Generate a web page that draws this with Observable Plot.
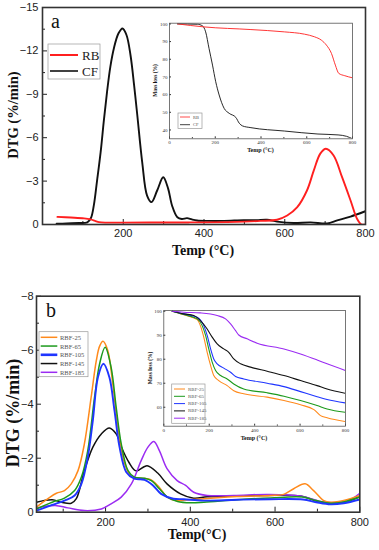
<!DOCTYPE html>
<html><head><meta charset="utf-8">
<script src="https://cdn.jsdelivr.net/npm/d3@7"></script>
<script src="https://cdn.jsdelivr.net/npm/@observablehq/plot@0.6"></script>
<style>
html,body{margin:0;padding:0;background:#fff;}
#chart{position:relative;width:379px;height:550px;overflow:hidden;background:#fff;}
#chart svg{position:absolute;overflow:visible;}
</style></head><body><div id="chart"></div>
<script>
// ---------- Panel a : DTG ----------
const aNames = ["RB", "CF"];
const aColors = ["#ff1f1f", "#111111"];
const rbT = [37, 70, 103, 119, 130, 140, 160, 200, 300, 400, 500, 540, 581, 606, 631, 655, 672, 688, 702, 721, 742, 763, 779, 790, 800];
const rbV = [-0.53, -0.48, -0.42, -0.35, -0.25, -0.16, -0.13, -0.13, -0.14, -0.15, -0.2, -0.25, -0.33, -0.62, -1.2, -2.35, -3.74, -4.9, -5.24, -4.77, -3.27, -1.66, -0.4, 0, 0];
const cfT = [35, 60, 90, 111, 120, 127, 135, 144, 152, 160, 168, 177, 188, 198, 208, 218, 227, 235, 247, 259, 270, 284, 299, 311, 321, 334, 345, 358, 370, 383, 408, 450, 498, 530, 556, 581, 622, 664, 705, 730, 763, 800];
const cfV = [-0.05, -0.08, -0.1, -0.15, -0.45, -1.3, -3.0, -5.0, -7.2, -9.2, -10.9, -12.2, -13.2, -13.55, -13.1, -11.7, -9.6, -7.5, -4.3, -2.0, -1.55, -2.35, -3.27, -2.5, -1.3, -0.5, -0.38, -0.44, -0.35, -0.28, -0.25, -0.25, -0.3, -0.3, -0.33, -0.2, -0.1, -0.15, -0.07, -0.28, -0.55, -0.92];
const aXTicks = [200, 400, 600, 800];
const aYTicks = [0, -3, -6, -9, -12, -15];

// ---------- Panel a inset : TG ----------
const rbTgT = [35, 151, 356, 502, 590, 634, 664, 686, 708, 725, 740, 766, 800];
const rbTgV = [100, 98.3, 96.8, 95.5, 94.2, 92.7, 90.8, 88, 83.3, 76.7, 72, 70.7, 69.5];
const cfTgT = [35, 122, 144, 158, 173, 188, 202, 217, 239, 261, 290, 305, 319, 356, 502, 649, 737, 774, 800];
const cfTgV = [100, 99.8, 98.9, 95.5, 86, 76.7, 67.3, 59.8, 52.2, 49.4, 47.1, 43.8, 42.3, 41.3, 39.4, 37.7, 37.2, 36.4, 35];
const aInXTicks = [0, 200, 400, 600, 800];
const aInYTicks = [40, 50, 60, 70, 80, 90, 100];

// ---------- Panel b : DTG ----------
const bNames = ["RBF-25", "RBF-65", "RBF-105", "RBF-145", "RBF-185"];
const bColors = ["#ff8a1c", "#1c9a1c", "#1f35ff", "#111111", "#9b2cf2"];
const b25T = [37, 64, 84, 103, 119, 135, 150, 166, 178, 186, 194, 205, 217, 229, 245, 261, 284, 304, 323, 346, 363, 401, 432, 510, 589, 620, 644, 671, 691, 715, 731, 762, 800];
const b25V = [-0.19, -0.5, -0.7, -0.8, -1.05, -1.54, -2.53, -4.26, -5.6, -6.15, -6.33, -6.0, -4.75, -3.15, -1.8, -1.32, -1.26, -1.22, -0.99, -0.56, -0.44, -0.47, -0.5, -0.58, -0.62, -0.66, -0.87, -1.05, -0.8, -0.43, -0.37, -0.43, -0.62];
const b65T = [37, 74, 103, 127, 143, 158, 174, 186, 199, 213, 225, 237, 253, 268, 292, 308, 327, 346, 370, 401, 432, 510, 589, 666, 697, 731, 762, 800];
const b65V = [-0.12, -0.37, -0.52, -0.8, -1.3, -2.28, -4.26, -5.5, -6.11, -5.37, -3.89, -2.53, -1.54, -1.3, -1.26, -1.17, -0.87, -0.56, -0.4, -0.35, -0.37, -0.46, -0.53, -0.56, -0.43, -0.33, -0.38, -0.56];
const b105T = [37, 74, 103, 127, 143, 158, 170, 182, 195, 209, 221, 233, 249, 268, 292, 312, 331, 360, 385, 432, 510, 589, 666, 697, 731, 762, 800];
const b105V = [-0.06, -0.27, -0.43, -0.62, -1.05, -2.04, -3.4, -5.0, -5.5, -5.0, -3.77, -2.41, -1.48, -1.24, -1.2, -0.99, -0.68, -0.5, -0.48, -0.43, -0.46, -0.48, -0.47, -0.37, -0.29, -0.33, -0.47];
const b145T = [37, 74, 96, 119, 131, 150, 170, 190, 209, 225, 241, 255, 272, 298, 323, 345, 377, 408, 440, 503, 582, 660, 707, 739, 770, 800];
const b145V = [-0.37, -0.46, -0.37, -0.33, -0.5, -1.54, -2.41, -2.9, -3.12, -2.9, -2.28, -1.85, -1.53, -1.72, -1.45, -1.05, -0.68, -0.52, -0.57, -0.6, -0.62, -0.6, -0.37, -0.33, -0.4, -0.57];
const b185T = [37, 81, 111, 150, 190, 213, 237, 261, 284, 300, 314, 327, 345, 369, 389, 408, 440, 503, 582, 660, 707, 739, 770, 800];
const b185V = [-0.16, -0.25, -0.16, -0.06, -0.12, -0.31, -0.56, -1.05, -1.91, -2.41, -2.62, -2.28, -1.61, -1.17, -0.99, -0.74, -0.62, -0.62, -0.66, -0.6, -0.4, -0.35, -0.4, -0.7];
const bXTicks = [200, 400, 600, 800];
const bYTicks = [0, -2, -4, -6, -8];

// ---------- Panel b inset : TG ----------
const tg25T = [37, 88, 147, 161, 176, 191, 206, 220, 242, 279, 308, 352, 455, 529, 602, 661, 690, 719, 800];
const tg25V = [100, 98.5, 96.5, 94, 89.2, 82.9, 77.4, 73.2, 71.1, 69, 66.9, 65.6, 64.2, 62.8, 61, 59, 56.5, 55.6, 54];
const tg65T = [37, 88, 147, 169, 184, 198, 213, 228, 250, 279, 308, 352, 455, 529, 602, 675, 719, 800];
const tg65V = [100, 98.6, 96.8, 94, 89.9, 84.3, 78.8, 75.3, 73.2, 71.8, 69.7, 67.6, 66, 64.6, 62.8, 60.7, 59.3, 57.9];
const tg105T = [37, 88, 147, 176, 191, 206, 220, 235, 264, 294, 316, 352, 455, 529, 602, 675, 719, 800];
const tg105V = [100, 98.9, 97.5, 94, 89.9, 84.3, 80.1, 78.1, 76.3, 74.6, 72.8, 71.8, 70, 68.6, 66.5, 64.4, 63.2, 61.8];
const tg145T = [37, 88, 132, 161, 191, 213, 235, 264, 286, 308, 338, 382, 455, 529, 602, 675, 719, 800];
const tg145V = [100, 98.9, 98.2, 96.1, 92.6, 89.2, 86.4, 84.3, 82.9, 80.1, 78.1, 76.7, 75, 73.2, 71.1, 69, 67.6, 65.8];
const tg185T = [37, 88, 161, 235, 272, 294, 316, 330, 367, 411, 529, 602, 675, 719, 800];
const tg185V = [100, 99.6, 99.3, 98.2, 96.8, 94.7, 91.9, 90.1, 88.5, 86.7, 84.3, 82.2, 79.7, 78.1, 75.3];
const bInXTicks = [0, 200, 400, 600, 800];
const bInYTicks = [60, 70, 80, 90, 100];

// ---------- helpers ----------
const rows = (T, V, s) => T.map((t, i) => ({t, v: V[i], s}));
const mid = (a) => a.slice(1).map((d, i) => (d + a[i]) / 2);
const root = document.getElementById("chart");
function place(el, left, top) { el.style.left = left + "px"; el.style.top = top + "px"; root.appendChild(el); }

const mainStyle = {fontFamily: "'Liberation Sans', Arial, sans-serif", fontSize: "11px", color: "#222", background: "transparent", overflow: "visible"};
const insetStyle = {fontFamily: "'Liberation Serif', 'Times New Roman', serif", fontSize: "5px", color: "#333", background: "transparent", overflow: "visible"};

// ---------- Panel a main ----------
const aData = [...rows(cfT, cfV, "CF"), ...rows(rbT, rbV, "RB")];
place(Plot.plot({
  width: 379, height: 275, marginLeft: 42, marginRight: 14, marginTop: 7, marginBottom: 51,
  style: mainStyle,
  x: {domain: [0, 800]},
  y: {domain: [0, -15]},
  color: {domain: aNames, range: aColors},
  marks: [
    Plot.axisX({ticks: aXTicks, tickSize: -5, tickPadding: 10, label: null}),
    Plot.axisX({ticks: [100, 300, 500, 700], tickSize: -3, tickFormat: () => "", label: null}),
    Plot.axisY({ticks: aYTicks, tickSize: -5, tickPadding: 9, label: null}),
    Plot.axisY({ticks: mid(aYTicks), tickSize: -3, tickFormat: () => "", label: null}),
    Plot.line(aData, {x: "t", y: "v", z: "s", stroke: "s", strokeWidth: 1.9, curve: "catmull-rom", clip: true}),
    Plot.frame({stroke: "#333", strokeWidth: 1.6})
  ]
}), 0, 0);

// ---------- Panel a inset ----------
const aInData = [...rows(cfTgT, cfTgV, "CF"), ...rows(rbTgT, rbTgV, "RB")];
place(Plot.plot({
  width: 210, height: 145, marginLeft: 19, marginRight: 8, marginTop: 7.7, marginBottom: 21.7,
  style: insetStyle,
  x: {domain: [0, 800]},
  y: {domain: [35, 100.4]},
  color: {domain: aNames, range: aColors},
  marks: [
    Plot.axisX({ticks: aInXTicks, tickSize: -2, tickPadding: 4, label: null}),
    Plot.axisX({ticks: mid(aInXTicks), tickSize: -1.2, tickFormat: () => "", label: null}),
    Plot.axisY({ticks: aInYTicks, tickSize: -2, tickPadding: 4, label: null}),
    Plot.line(aInData, {x: "t", y: "v", z: "s", stroke: "s", strokeWidth: 0.9, curve: "monotone-x", clip: true}),
    Plot.frame({stroke: "#555", strokeWidth: 0.8})
  ]
}), 150, 15);

// ---------- Panel b main ----------
const bSeries = [[b145T, b145V, bNames[3]], [b185T, b185V, bNames[4]], [b25T, b25V, bNames[0]], [b65T, b65V, bNames[1]], [b105T, b105V, bNames[2]]];
const bData = bSeries.flatMap(([T, V, s]) => rows(T, V, s));
place(Plot.plot({
  width: 379, height: 275, marginLeft: 36, marginRight: 19.7, marginTop: 20.7, marginBottom: 38.3,
  style: mainStyle,
  x: {domain: [37, 800]},
  y: {domain: [0, -8]},
  color: {domain: bNames, range: bColors},
  marks: [
    Plot.axisX({ticks: bXTicks, tickSize: -5, tickPadding: 11, label: null}),
    Plot.axisX({ticks: [100, 300, 500, 700], tickSize: -3, tickFormat: () => "", label: null}),
    Plot.axisY({ticks: bYTicks, tickSize: -5, tickPadding: 8, label: null}),
    Plot.axisY({ticks: mid(bYTicks), tickSize: -3, tickFormat: () => "", label: null}),
    Plot.line(bData, {x: "t", y: "v", z: "s", stroke: "s", strokeWidth: (d) => d.s === "RBF-105" ? 1.9 : 1.5, curve: "catmull-rom", clip: true}),
    Plot.frame({stroke: "#333", strokeWidth: 1.6})
  ]
}), 0, 275);

// ---------- Panel b inset ----------
const bInSeries = [[tg25T, tg25V, bNames[0]], [tg65T, tg65V, bNames[1]], [tg105T, tg105V, bNames[2]], [tg145T, tg145V, bNames[3]], [tg185T, tg185V, bNames[4]]];
const bInData = bInSeries.flatMap(([T, V, s]) => rows(T, V, s));
place(Plot.plot({
  width: 215, height: 145, marginLeft: 23.3, marginRight: 10, marginTop: 8, marginBottom: 21.3,
  style: insetStyle,
  x: {domain: [0, 800]},
  y: {domain: [52.1, 100.3]},
  color: {domain: bNames, range: bColors},
  marks: [
    Plot.axisX({ticks: bInXTicks, tickSize: -2, tickPadding: 4, label: null}),
    Plot.axisX({ticks: mid(bInXTicks), tickSize: -1.2, tickFormat: () => "", label: null}),
    Plot.axisY({ticks: bInYTicks, tickSize: -2, tickPadding: 4, label: null}),
    Plot.line(bInData, {x: "t", y: "v", z: "s", stroke: "s", strokeWidth: 1.1, curve: "monotone-x", clip: true}),
    Plot.frame({stroke: "#555", strokeWidth: 0.8})
  ]
}), 140, 302);

// ---------- overlay: titles and legends ----------
const ov = d3.create("svg").attr("width", 379).attr("height", 550).style("left", "0px").style("top", "0px");
const serif = "'Liberation Serif', 'Times New Roman', serif";
function text(x, y, s, o = {}) {
  const t = ov.append("text").attr("x", x).attr("y", y).text(s)
    .attr("font-family", o.family || serif).attr("font-size", o.size || 14)
    .attr("font-weight", o.weight || "normal").attr("fill", o.fill || "#111")
    .attr("text-anchor", o.anchor || "middle");
  if (o.rotate) t.attr("transform", `rotate(-90 ${x} ${y})`);
  if (o.baseline) t.attr("dominant-baseline", o.baseline);
  return t;
}
function legend(box, names, colors, y0, step, x1, x2, tx, size, fill, widths) {
  ov.append("rect").attr("x", box[0]).attr("y", box[1]).attr("width", box[2]).attr("height", box[3])
    .attr("fill", "#fff").attr("stroke", "#999").attr("stroke-width", 0.7);
  names.forEach((n, i) => {
    const y = y0 + i * step;
    ov.append("line").attr("x1", x1).attr("x2", x2).attr("y1", y).attr("y2", y)
      .attr("stroke", colors[i]).attr("stroke-width", widths ? widths[i] : 1.5);
    text(tx, y, n, {size, fill, anchor: "start", baseline: "central"});
  });
}
// panel a
text(13, 115, "DTG (%/min)", {weight: "bold", rotate: true, baseline: "central", size: 14.5});
text(203, 255, "Temp (°C)", {weight: "bold", size: 14});
text(51, 28, "a", {size: 20, anchor: "start"});
legend([48, 44, 52, 35], aNames, aColors, 55, 16, 50, 78, 82, 13, "#222", [2, 1.6]);
text(154.5, 80.5, "Mass loss (%)", {weight: "bold", rotate: true, baseline: "central", size: 5.5});
text(260.5, 152, "Temp (°C)", {weight: "bold", size: 6});
legend([178, 113, 24, 15.5], aNames, aColors, 117, 7.7, 180, 190, 193, 4.5, "#555", [0.8, 0.8]);
// panel b
text(13, 413, "DTG (%/min)", {weight: "bold", rotate: true, baseline: "central", size: 18});
text(197, 539, "Temp(°C)", {weight: "bold", size: 14});
text(46, 317, "b", {size: 20, anchor: "start"});
legend([39, 331.7, 49, 45], bNames, bColors, 337.3, 8.75, 40.7, 57.3, 60, 6.5, "#555", [1.5, 1.5, 2.6, 1.5, 1.5]);
text(149.5, 368, "Mass loss (%)", {weight: "bold", rotate: true, baseline: "central", size: 5.5});
text(254, 439.5, "Temp (°C)", {weight: "bold", size: 6});
legend([171.7, 384, 33.3, 39.3], bNames, bColors, 389, 7.3, 174, 185, 188, 5, "#555", [1, 1, 1, 1, 1]);
place(ov.node(), 0, 0);
</script></body></html>
